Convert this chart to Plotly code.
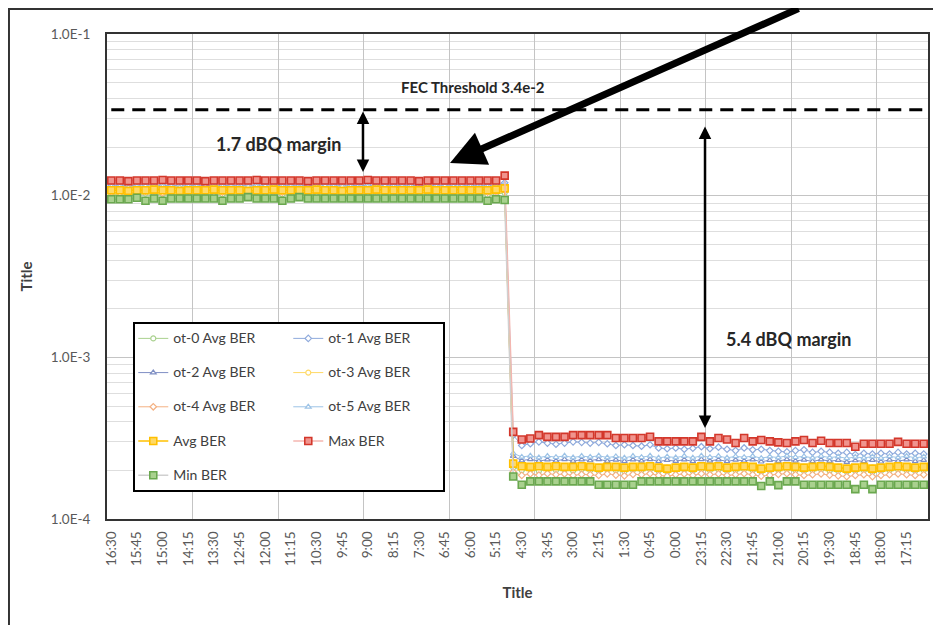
import plotly.graph_objects as go

# ---------------- data ----------------
time_labels = ["16:30","16:15","16:00","15:45","15:30","15:15","15:00","14:45","14:30","14:15",
"14:00","13:45","13:30","13:15","13:00","12:45","12:30","12:15","12:00","11:45",
"11:30","11:15","11:00","10:45","10:30","10:15","10:00","9:45","9:30","9:15",
"9:00","8:45","8:30","8:15","8:00","7:45","7:30","7:15","7:00","6:45",
"6:30","6:15","6:00","5:45","5:30","5:15","5:00","4:45","4:30","4:15",
"4:00","3:45","3:30","3:15","3:00","2:45","2:30","2:15","2:00","1:45",
"1:30","1:15","1:00","0:45","0:30","0:15","0:00","23:45","23:30","23:15",
"23:00","22:45","22:30","22:15","22:00","21:45","21:30","21:15","21:00","20:45",
"20:30","20:15","20:00","19:45","19:30","19:15","19:00","18:45","18:30","18:15",
"18:00","17:45","17:30","17:15","17:00","16:45"]

max_ber = [
1.24e-2,1.24e-2,1.23e-2,1.24e-2,1.24e-2,1.24e-2,1.25e-2,1.24e-2,1.24e-2,1.24e-2,
1.24e-2,1.23e-2,1.24e-2,1.24e-2,1.24e-2,1.24e-2,1.24e-2,1.25e-2,1.24e-2,1.24e-2,
1.24e-2,1.24e-2,1.24e-2,1.23e-2,1.24e-2,1.24e-2,1.24e-2,1.24e-2,1.24e-2,1.24e-2,
1.25e-2,1.24e-2,1.24e-2,1.24e-2,1.24e-2,1.24e-2,1.23e-2,1.24e-2,1.24e-2,1.24e-2,
1.24e-2,1.24e-2,1.24e-2,1.24e-2,1.24e-2,1.24e-2,1.33e-2,
3.46e-4,3.10e-4,3.15e-4,3.30e-4,3.22e-4,3.22e-4,3.22e-4,3.30e-4,3.30e-4,3.30e-4,
3.30e-4,3.30e-4,3.17e-4,3.17e-4,3.17e-4,3.17e-4,3.23e-4,3.02e-4,3.02e-4,3.02e-4,
3.02e-4,3.02e-4,3.22e-4,3.02e-4,3.17e-4,3.10e-4,2.95e-4,3.17e-4,3.02e-4,3.08e-4,
3.02e-4,2.98e-4,2.95e-4,3.02e-4,3.08e-4,2.95e-4,3.05e-4,2.95e-4,2.95e-4,2.95e-4,
2.80e-4,2.92e-4,2.92e-4,2.92e-4,2.92e-4,3.00e-4,2.92e-4,2.92e-4,2.92e-4]

avg_ber = [
1.08e-2,1.08e-2,1.07e-2,1.08e-2,1.08e-2,1.09e-2,1.08e-2,1.08e-2,1.07e-2,1.08e-2,
1.08e-2,1.08e-2,1.09e-2,1.08e-2,1.08e-2,1.08e-2,1.07e-2,1.08e-2,1.08e-2,1.09e-2,
1.08e-2,1.08e-2,1.08e-2,1.08e-2,1.09e-2,1.08e-2,1.08e-2,1.07e-2,1.08e-2,1.08e-2,
1.08e-2,1.09e-2,1.08e-2,1.08e-2,1.08e-2,1.08e-2,1.08e-2,1.09e-2,1.08e-2,1.08e-2,
1.08e-2,1.08e-2,1.08e-2,1.08e-2,1.08e-2,1.09e-2,1.11e-2,
2.20e-4,2.12e-4,2.10e-4,2.12e-4,2.10e-4,2.12e-4,2.10e-4,2.10e-4,2.12e-4,2.10e-4,
2.08e-4,2.10e-4,2.10e-4,2.08e-4,2.10e-4,2.10e-4,2.12e-4,2.08e-4,2.05e-4,2.08e-4,
2.10e-4,2.08e-4,2.12e-4,2.10e-4,2.12e-4,2.08e-4,2.10e-4,2.12e-4,2.10e-4,2.05e-4,
2.08e-4,2.10e-4,2.12e-4,2.10e-4,2.08e-4,2.10e-4,2.12e-4,2.10e-4,2.08e-4,2.05e-4,
2.08e-4,2.10e-4,2.05e-4,2.08e-4,2.10e-4,2.12e-4,2.10e-4,2.08e-4,2.10e-4]

min_ber = [
9.5e-3,9.5e-3,9.5e-3,9.7e-3,9.3e-3,9.6e-3,9.3e-3,9.6e-3,9.6e-3,9.6e-3,
9.6e-3,9.6e-3,9.6e-3,9.3e-3,9.6e-3,9.6e-3,9.8e-3,9.6e-3,9.6e-3,9.6e-3,
9.3e-3,9.6e-3,9.8e-3,9.6e-3,9.6e-3,9.6e-3,9.6e-3,9.6e-3,9.6e-3,9.6e-3,
9.6e-3,9.6e-3,9.6e-3,9.6e-3,9.6e-3,9.6e-3,9.6e-3,9.6e-3,9.6e-3,9.6e-3,
9.6e-3,9.6e-3,9.6e-3,9.6e-3,9.3e-3,9.5e-3,9.4e-3,
1.83e-4,1.63e-4,1.71e-4,1.71e-4,1.71e-4,1.71e-4,1.71e-4,1.71e-4,1.71e-4,1.71e-4,
1.63e-4,1.63e-4,1.63e-4,1.63e-4,1.63e-4,1.71e-4,1.71e-4,1.71e-4,1.71e-4,1.71e-4,
1.71e-4,1.71e-4,1.71e-4,1.71e-4,1.71e-4,1.71e-4,1.71e-4,1.71e-4,1.71e-4,1.60e-4,
1.71e-4,1.62e-4,1.71e-4,1.71e-4,1.63e-4,1.63e-4,1.63e-4,1.63e-4,1.63e-4,1.63e-4,
1.53e-4,1.63e-4,1.53e-4,1.63e-4,1.63e-4,1.63e-4,1.63e-4,1.63e-4,1.63e-4]

ot0_ber = [
1.02e-2,1.02e-2,1.01e-2,1.02e-2,1.03e-2,1.02e-2,1.02e-2,1.01e-2,1.02e-2,1.02e-2,
1.02e-2,1.03e-2,1.02e-2,1.02e-2,1.01e-2,1.02e-2,1.02e-2,1.02e-2,1.03e-2,1.02e-2,
1.02e-2,1.01e-2,1.02e-2,1.02e-2,1.02e-2,1.03e-2,1.02e-2,1.02e-2,1.02e-2,1.01e-2,
1.02e-2,1.02e-2,1.03e-2,1.02e-2,1.02e-2,1.02e-2,1.01e-2,1.02e-2,1.02e-2,1.02e-2,
1.03e-2,1.02e-2,1.02e-2,1.02e-2,1.01e-2,1.02e-2,1.04e-2,
2.08e-4,2.00e-4,2.02e-4,1.98e-4,2.03e-4,2.00e-4,2.02e-4,1.99e-4,2.03e-4,2.00e-4,
1.98e-4,2.02e-4,2.00e-4,1.97e-4,2.01e-4,2.00e-4,2.03e-4,1.98e-4,1.96e-4,2.00e-4,
2.02e-4,1.98e-4,2.03e-4,2.00e-4,2.02e-4,1.98e-4,2.00e-4,2.03e-4,2.00e-4,1.96e-4,
1.99e-4,2.01e-4,2.03e-4,2.00e-4,1.98e-4,2.00e-4,2.02e-4,1.99e-4,1.98e-4,1.96e-4,
1.98e-4,2.00e-4,1.95e-4,1.98e-4,2.00e-4,2.02e-4,2.00e-4,1.98e-4,2.00e-4]

ot1_ber = [
1.16e-2,1.16e-2,1.15e-2,1.16e-2,1.17e-2,1.16e-2,1.16e-2,1.15e-2,1.16e-2,1.16e-2,
1.16e-2,1.17e-2,1.16e-2,1.16e-2,1.15e-2,1.16e-2,1.16e-2,1.16e-2,1.17e-2,1.16e-2,
1.16e-2,1.15e-2,1.16e-2,1.16e-2,1.16e-2,1.17e-2,1.16e-2,1.16e-2,1.16e-2,1.15e-2,
1.16e-2,1.16e-2,1.17e-2,1.16e-2,1.16e-2,1.16e-2,1.15e-2,1.16e-2,1.16e-2,1.16e-2,
1.17e-2,1.16e-2,1.16e-2,1.16e-2,1.15e-2,1.16e-2,1.20e-2,
3.30e-4,2.85e-4,2.92e-4,3.00e-4,2.95e-4,2.90e-4,2.95e-4,3.00e-4,2.98e-4,2.95e-4,
2.98e-4,2.92e-4,2.85e-4,2.88e-4,2.85e-4,2.82e-4,2.88e-4,2.75e-4,2.72e-4,2.75e-4,
2.70e-4,2.74e-4,2.80e-4,2.72e-4,2.78e-4,2.70e-4,2.65e-4,2.75e-4,2.68e-4,2.70e-4,
2.65e-4,2.62e-4,2.60e-4,2.65e-4,2.68e-4,2.58e-4,2.62e-4,2.58e-4,2.55e-4,2.58e-4,
2.50e-4,2.55e-4,2.52e-4,2.55e-4,2.52e-4,2.58e-4,2.52e-4,2.55e-4,2.52e-4]

ot2_ber = [
1.12e-2,1.11e-2,1.12e-2,1.12e-2,1.13e-2,1.12e-2,1.11e-2,1.12e-2,1.12e-2,1.12e-2,
1.13e-2,1.12e-2,1.12e-2,1.11e-2,1.12e-2,1.12e-2,1.13e-2,1.12e-2,1.12e-2,1.11e-2,
1.12e-2,1.12e-2,1.13e-2,1.12e-2,1.12e-2,1.12e-2,1.11e-2,1.12e-2,1.13e-2,1.12e-2,
1.12e-2,1.11e-2,1.12e-2,1.12e-2,1.13e-2,1.12e-2,1.12e-2,1.12e-2,1.11e-2,1.12e-2,
1.12e-2,1.13e-2,1.12e-2,1.12e-2,1.12e-2,1.11e-2,1.15e-2,
2.45e-4,2.30e-4,2.34e-4,2.28e-4,2.33e-4,2.29e-4,2.34e-4,2.28e-4,2.33e-4,2.30e-4,
2.34e-4,2.28e-4,2.32e-4,2.27e-4,2.33e-4,2.29e-4,2.34e-4,2.27e-4,2.31e-4,2.28e-4,
2.33e-4,2.27e-4,2.34e-4,2.29e-4,2.33e-4,2.27e-4,2.32e-4,2.29e-4,2.33e-4,2.26e-4,
2.31e-4,2.28e-4,2.34e-4,2.29e-4,2.32e-4,2.27e-4,2.33e-4,2.28e-4,2.31e-4,2.25e-4,
2.30e-4,2.27e-4,2.31e-4,2.26e-4,2.32e-4,2.28e-4,2.33e-4,2.27e-4,2.31e-4]

ot3_ber = [
1.08e-2,1.08e-2,1.08e-2,1.07e-2,1.08e-2,1.09e-2,1.08e-2,1.08e-2,1.08e-2,1.07e-2,
1.08e-2,1.08e-2,1.09e-2,1.08e-2,1.08e-2,1.07e-2,1.08e-2,1.08e-2,1.08e-2,1.09e-2,
1.08e-2,1.08e-2,1.07e-2,1.08e-2,1.08e-2,1.08e-2,1.09e-2,1.08e-2,1.08e-2,1.08e-2,
1.07e-2,1.08e-2,1.08e-2,1.09e-2,1.08e-2,1.08e-2,1.08e-2,1.07e-2,1.08e-2,1.08e-2,
1.09e-2,1.08e-2,1.08e-2,1.08e-2,1.07e-2,1.08e-2,1.11e-2,
2.25e-4,2.14e-4,2.12e-4,2.15e-4,2.12e-4,2.14e-4,2.11e-4,2.13e-4,2.15e-4,2.12e-4,
2.10e-4,2.13e-4,2.12e-4,2.10e-4,2.13e-4,2.12e-4,2.14e-4,2.10e-4,2.08e-4,2.11e-4,
2.13e-4,2.10e-4,2.14e-4,2.12e-4,2.14e-4,2.10e-4,2.12e-4,2.14e-4,2.12e-4,2.08e-4,
2.10e-4,2.12e-4,2.14e-4,2.12e-4,2.10e-4,2.12e-4,2.14e-4,2.12e-4,2.10e-4,2.07e-4,
2.10e-4,2.12e-4,2.08e-4,2.10e-4,2.12e-4,2.14e-4,2.12e-4,2.10e-4,2.12e-4]

ot4_ber = [
1.05e-2,1.04e-2,1.05e-2,1.05e-2,1.06e-2,1.05e-2,1.04e-2,1.05e-2,1.05e-2,1.06e-2,
1.05e-2,1.05e-2,1.04e-2,1.05e-2,1.05e-2,1.06e-2,1.05e-2,1.05e-2,1.04e-2,1.05e-2,
1.05e-2,1.06e-2,1.05e-2,1.05e-2,1.04e-2,1.05e-2,1.05e-2,1.06e-2,1.05e-2,1.05e-2,
1.04e-2,1.05e-2,1.05e-2,1.06e-2,1.05e-2,1.05e-2,1.04e-2,1.05e-2,1.05e-2,1.06e-2,
1.05e-2,1.05e-2,1.04e-2,1.05e-2,1.05e-2,1.05e-2,1.08e-2,
1.95e-4,1.86e-4,1.90e-4,1.87e-4,1.91e-4,1.88e-4,1.90e-4,1.86e-4,1.89e-4,1.88e-4,
1.86e-4,1.90e-4,1.87e-4,1.85e-4,1.89e-4,1.88e-4,1.91e-4,1.86e-4,1.84e-4,1.88e-4,
1.90e-4,1.86e-4,1.91e-4,1.88e-4,1.90e-4,1.86e-4,1.88e-4,1.91e-4,1.88e-4,1.84e-4,
1.87e-4,1.89e-4,1.91e-4,1.88e-4,1.86e-4,1.88e-4,1.90e-4,1.87e-4,1.85e-4,1.83e-4,
1.86e-4,1.88e-4,1.83e-4,1.86e-4,1.88e-4,1.90e-4,1.88e-4,1.86e-4,1.88e-4]

ot5_ber = [
1.14e-2,1.14e-2,1.13e-2,1.14e-2,1.15e-2,1.14e-2,1.14e-2,1.14e-2,1.13e-2,1.14e-2,
1.14e-2,1.15e-2,1.14e-2,1.14e-2,1.14e-2,1.13e-2,1.14e-2,1.14e-2,1.15e-2,1.14e-2,
1.14e-2,1.14e-2,1.13e-2,1.14e-2,1.14e-2,1.15e-2,1.14e-2,1.14e-2,1.14e-2,1.13e-2,
1.14e-2,1.14e-2,1.15e-2,1.14e-2,1.14e-2,1.14e-2,1.13e-2,1.14e-2,1.14e-2,1.15e-2,
1.14e-2,1.14e-2,1.14e-2,1.13e-2,1.14e-2,1.14e-2,1.18e-2,
2.55e-4,2.42e-4,2.46e-4,2.40e-4,2.45e-4,2.41e-4,2.46e-4,2.40e-4,2.45e-4,2.42e-4,
2.46e-4,2.40e-4,2.44e-4,2.39e-4,2.45e-4,2.41e-4,2.46e-4,2.39e-4,2.43e-4,2.40e-4,
2.45e-4,2.39e-4,2.46e-4,2.41e-4,2.45e-4,2.39e-4,2.44e-4,2.41e-4,2.45e-4,2.38e-4,
2.43e-4,2.40e-4,2.46e-4,2.41e-4,2.44e-4,2.39e-4,2.45e-4,2.40e-4,2.43e-4,2.37e-4,
2.42e-4,2.39e-4,2.43e-4,2.38e-4,2.44e-4,2.40e-4,2.45e-4,2.39e-4,2.43e-4]

fec_threshold = 3.4e-2
y_tick_vals = [1e-4, 1e-3, 1e-2, 1e-1]
y_tick_text = ["1.0E-4", "1.0E-3", "1.0E-2", "1.0E-1"]

# ---------------- figure ----------------
FONT = "Lato"
fig = go.Figure()

def legname(s, last=False):
    core = "<span style='font-size:14px'>" + s + "</span>"
    return core if last else core + "<br> "

ot_specs = [
    ("ot-0 Avg BER", ot0_ber, "#A9D18E", "circle", "c1"),
    ("ot-1 Avg BER", ot1_ber, "#8FAADC", "diamond", "c2"),
    ("ot-2 Avg BER", ot2_ber, "#7F8FC4", "triangle-up", "c1"),
    ("ot-3 Avg BER", ot3_ber, "#FFD966", "circle", "c2"),
    ("ot-4 Avg BER", ot4_ber, "#F4B183", "diamond", "c1"),
    ("ot-5 Avg BER", ot5_ber, "#9DC3E6", "triangle-up", "c2"),
]
for name, vals, col, sym, grp in ot_specs:
    fig.add_trace(go.Scatter(
        x=time_labels, y=vals, name=legname(name), legendgroup=grp,
        mode="lines+markers",
        line=dict(color=col, width=1),
        marker=dict(symbol=sym, size=5, color="white", line=dict(color=col, width=1.2)),
    ))

main_specs = [
    ("Avg BER", avg_ber, "#FFC000", "#FFD966", "#FFC000", "c1", False),
    ("Max BER", max_ber, "#F4B6B0", "#F0948E", "#D3372B", "c2", False),
    ("Min BER", min_ber, "#D0D0D0", "#A9D18E", "#6AA84F", "c1", True),
]
for name, vals, lcol, fcol, ecol, grp, last in main_specs:
    fig.add_trace(go.Scatter(
        x=time_labels, y=vals, name=legname(name, last), legendgroup=grp,
        mode="lines+markers",
        line=dict(color=lcol, width=1.5),
        marker=dict(symbol="square", size=7, color=fcol, line=dict(color=ecol, width=1.6)),
    ))

# FEC threshold dashed line
fig.add_trace(go.Scatter(
    x=[time_labels[0], time_labels[-1]], y=[fec_threshold, fec_threshold],
    mode="lines", line=dict(color="black", width=3, dash="13px,8px"),
    showlegend=False, hoverinfo="skip",
))

# helper trace so the gridline axis is drawn
fig.add_trace(go.Scatter(x=[None], y=[None], xaxis="x2", showlegend=False, hoverinfo="skip"))

minor_vals = [k * 10.0 ** e for e in (-4, -3, -2) for k in range(2, 10)]

# the page body adds an 8px offset, so the figure is 8px smaller than the window
fig.update_layout(
    width=933, height=617,
    margin=dict(l=99, r=13, t=26, b=106, autoexpand=False),
    paper_bgcolor="white", plot_bgcolor="white",
    font=dict(family=FONT, color="#595959", size=13),
    showlegend=True,
    legend=dict(
        orientation="h", traceorder="grouped",
        x=0.032, y=0.406, xanchor="left", yanchor="top",
        bgcolor="white", bordercolor="black", borderwidth=2,
        font=dict(family=FONT, size=12, color="#404040"),
        valign="top", entrywidth=110,
    ),
    xaxis=dict(
        type="category", categoryorder="array", categoryarray=time_labels,
        range=[-0.5, 95.5],
        tickmode="array", tickvals=time_labels[::3], ticktext=time_labels[::3],
        tickangle=-90, tickfont=dict(size=13.5, color="#595959"),
        showgrid=False, zeroline=False,
        showline=True, mirror=True, linecolor="#333333", linewidth=2,
        ticks="", ticklabelstandoff=5,
        title=dict(text="<b>Title</b>", font=dict(size=15, color="#404040"), standoff=22),
    ),
    xaxis2=dict(
        overlaying="x", anchor="y", side="bottom",
        range=[-0.5, 95.5], tickmode="linear", tick0=9.5, dtick=10,
        showgrid=True, gridcolor="#c4c4c4", gridwidth=1,
        showticklabels=False, ticks="", zeroline=False, showline=False,
    ),
    yaxis=dict(
        type="log", range=[-4, -1],
        tickmode="array", tickvals=y_tick_vals, ticktext=y_tick_text,
        tickfont=dict(size=13.5, color="#595959"),
        showgrid=True, gridcolor="#c4c4c4", gridwidth=1,
        minor=dict(tickvals=minor_vals, showgrid=True, gridcolor="#dedede", ticks=""),
        showline=True, mirror=True, linecolor="#333333", linewidth=2,
        ticks="", ticklabelstandoff=12, zeroline=False,
        title=dict(text="<b>Title</b>", font=dict(size=15, color="#404040"), standoff=15),
    ),
)

for tx, px, py, fs in [("<b>FEC Threshold 3.4e-2</b>", 0.4458, 0.8907, 15),
                       ("<b>1.7 dBQ margin</b>", 0.2083, 0.7732, 18),
                       ("<b>5.4 dBQ margin</b>", 0.8295, 0.3711, 18)]:
    fig.add_annotation(xref="paper", yref="paper", x=px, y=py, text=tx,
                       showarrow=False, font=dict(family=FONT, size=fs, color="#262626"),
                       xanchor="center", yanchor="middle")

# double arrows
fig.add_annotation(xref="paper", yref="paper", x=0.3118, y=0.7155, ax=0, ay=-62,
                   text="", showarrow=True, arrowhead=2, startarrowhead=2,
                   arrowside="end+start", arrowwidth=2.5, arrowsize=1, arrowcolor="black",
                   startarrowsize=1, standoff=0, startstandoff=0)
fig.add_annotation(xref="paper", yref="paper", x=0.7284, y=0.1876, ax=0, ay=-303,
                   text="", showarrow=True, arrowhead=2, startarrowhead=2,
                   arrowside="end+start", arrowwidth=2.5, arrowsize=1, arrowcolor="black",
                   startarrowsize=1, standoff=0, startstandoff=0)
# big pointer arrow
fig.add_annotation(xref="paper", yref="paper", x=0.4178, y=0.734, ax=350, ay=-178,
                   text="", showarrow=True, arrowhead=2, arrowwidth=7, arrowsize=1,
                   arrowcolor="black", standoff=0)

# outer frame of the original screenshot
fig.add_shape(type="rect", xref="paper", yref="paper",
              x0=-0.1194, x1=1.2, y0=-0.4, y1=1.0515,
              line=dict(color="#333333", width=2), fillcolor="rgba(0,0,0,0)", layer="below")

fig.write_html("out.html")
